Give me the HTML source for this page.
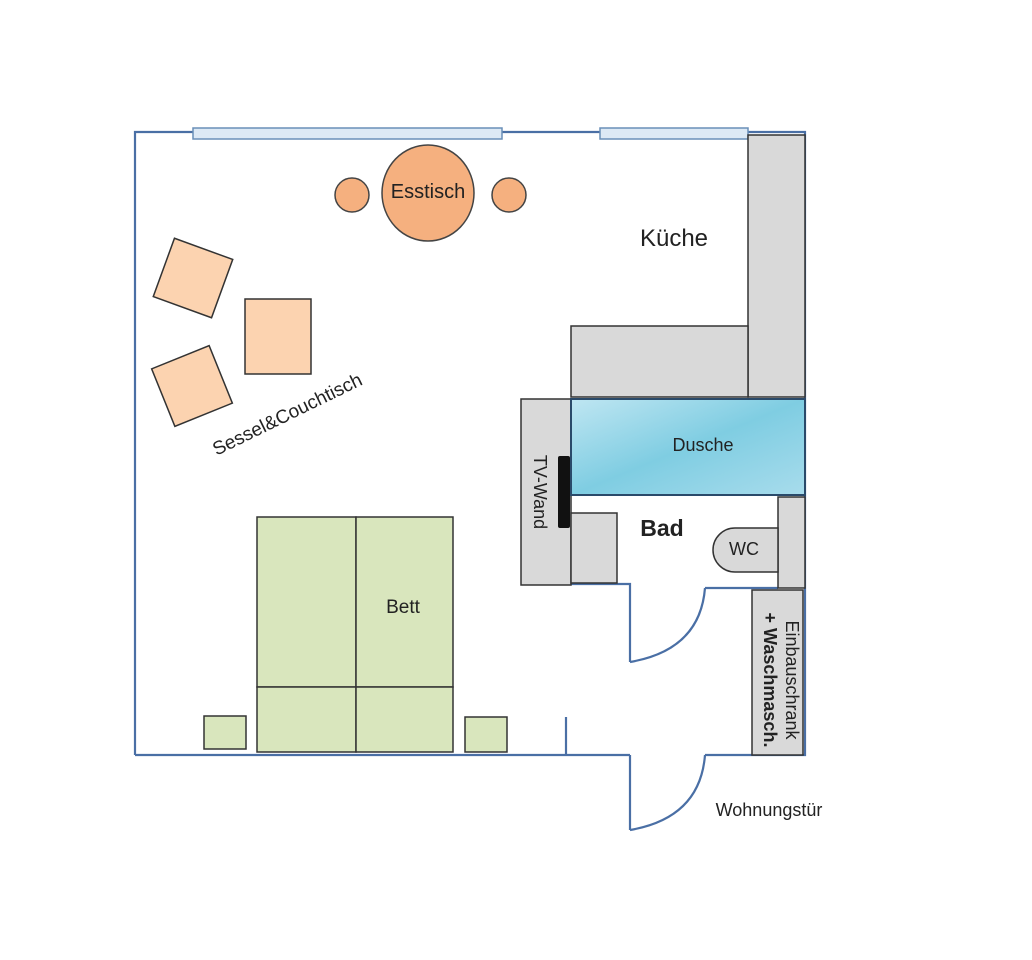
<!DOCTYPE html>
<html><head><meta charset="utf-8"><style>
html,body{margin:0;padding:0;background:#fff;}
svg{display:block;}
text{font-family:"Liberation Sans Narrow","Liberation Sans",sans-serif;fill:#222;}
</style></head><body>
<svg width="1032" height="960" viewBox="0 0 1032 960" xmlns="http://www.w3.org/2000/svg">
<defs>
<linearGradient id="w" x1="0" y1="0" x2="1" y2="1">
<stop offset="0" stop-color="#bfe6f2"/><stop offset="0.5" stop-color="#7fcde2"/><stop offset="1" stop-color="#a8dcec"/>
</linearGradient>
</defs>
<g fill="none" stroke="#4a6fa5" stroke-width="2.2">
<polyline points="135,755 135,132 805,132 805,755 705,755"/>
<line x1="135" y1="755" x2="630" y2="755"/>
<line x1="566" y1="717" x2="566" y2="755"/>
<polyline points="571,584 630,584 630,662"/>
<path d="M630,662 Q700,650 705,588"/>
<line x1="705" y1="588" x2="778" y2="588"/>
<line x1="630" y1="755" x2="630" y2="830"/>
<path d="M630,830 Q700,818 705,755"/>
</g>
<rect x="193" y="128" width="309" height="11" fill="#dde9f5" stroke="#6a8fb8" stroke-width="1.5"/>
<rect x="600" y="128" width="148" height="11" fill="#dde9f5" stroke="#6a8fb8" stroke-width="1.5"/>
<g fill="#d9d9d9" stroke="#333" stroke-width="1.5">
<rect x="748" y="135" width="57" height="262"/>
<rect x="571" y="326" width="177" height="71"/>
<rect x="521" y="399" width="50" height="186"/>
<rect x="571" y="513" width="46" height="70"/>
<rect x="778" y="497" width="27" height="91"/>
<rect x="752" y="590" width="51" height="165"/>
<path d="M778,528 L735,528 A22,22 0 0 0 735,572 L778,572 Z"/>
</g>
<rect x="571" y="399" width="234" height="96" fill="url(#w)" stroke="#2a4a6a" stroke-width="2"/>
<rect x="558" y="456" width="12" height="72" fill="#111" rx="2"/>
<g fill="#f5b07f" stroke="#444" stroke-width="1.5">
<ellipse cx="428" cy="193" rx="46" ry="48"/>
<ellipse cx="352" cy="195" rx="17" ry="17"/>
<ellipse cx="509" cy="195" rx="17" ry="17"/>
</g>
<g fill="#fcd3b0" stroke="#333" stroke-width="1.5">
<rect x="-31" y="-31" width="62" height="62" transform="translate(193,278) rotate(20)"/>
<rect x="245" y="299" width="66" height="75"/>
<rect x="-31" y="-31" width="62" height="62" transform="translate(192,386) rotate(-22)"/>
</g>
<g fill="#d9e6bd" stroke="#333" stroke-width="1.5">
<rect x="257" y="517" width="99" height="170"/>
<rect x="356" y="517" width="97" height="170"/>
<rect x="257" y="687" width="99" height="65"/>
<rect x="356" y="687" width="97" height="65"/>
<rect x="204" y="716" width="42" height="33"/>
<rect x="465" y="717" width="42" height="35"/>
</g>
<text x="428" y="198" font-size="20" text-anchor="middle">Esstisch</text>
<text x="674" y="246" font-size="24" text-anchor="middle">Küche</text>
<text x="703" y="451" font-size="18" text-anchor="middle">Dusche</text>
<text x="662" y="536" font-size="23" text-anchor="middle" font-weight="bold">Bad</text>
<text x="744" y="555" font-size="18" text-anchor="middle">WC</text>
<text x="403" y="613" font-size="19" text-anchor="middle">Bett</text>
<text x="769" y="816" font-size="18" text-anchor="middle">Wohnungstür</text>
<text font-size="19" text-anchor="middle" transform="translate(290,420) rotate(-26)">Sessel&amp;Couchtisch</text>
<text font-size="18" text-anchor="middle" transform="translate(534,492) rotate(90)">TV-Wand</text>
<text font-size="18" text-anchor="middle" transform="translate(786,680) rotate(90)">Einbauschrank</text>
<text font-size="18" text-anchor="middle" font-weight="bold" transform="translate(764,680) rotate(90)">+ Waschmasch.</text>
</svg>
</body></html>
